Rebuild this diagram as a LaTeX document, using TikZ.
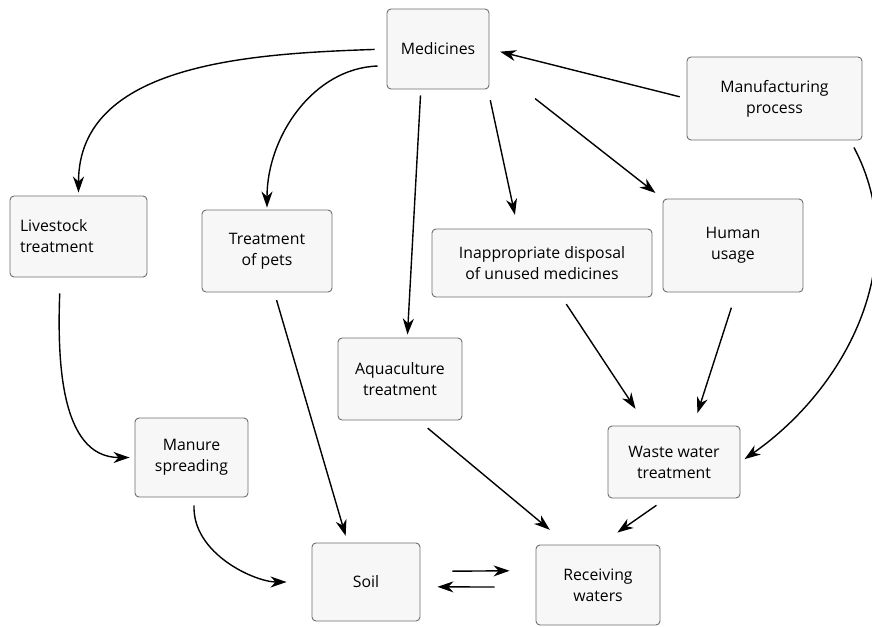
\documentclass[tikz,border=0pt]{standalone}
\usepackage{fontspec}
\setmainfont{Open Sans}
\usetikzlibrary{arrows.meta}
\definecolor{boxFill}{HTML}{F7F7F7}
\definecolor{boxLine}{HTML}{6E6E6E}

\begin{document}
\begin{tikzpicture}[x=1pt, y=-1pt,
        box/.style={draw=boxLine, fill=boxFill, rounded corners=4pt, line width=0.9pt,
            align=center, inner sep=0pt, font=\fontsize{15.8}{21}\selectfont},
        flow/.style={line width=1.4pt, -{Stealth[length=16pt, width=11pt, inset=5pt]}}]
            \useasboundingbox (0,0) rectangle (872,626);

            \node[box, minimum width=102, minimum height=80] (med) at (438,49) {Medicines};
            \node[box, minimum width=175, minimum height=83] (manu) at (774.5,98.5) {Manufacturing\\process};
            \node[box, minimum width=137, minimum height=81, text width=117, align=left] (live) at (78.5,236.5) {Livestock\\treatment};
            \node[box, minimum width=130, minimum height=82] (pets) at (267,251) {Treatment\\of pets};
            \node[box, minimum width=220, minimum height=68] (disp) at (542,263) {Inappropriate disposal\\of unused medicines};
            \node[box, minimum width=140, minimum height=93] (human) at (733,245.5) {Human\\usage};
            \node[box, minimum width=124, minimum height=82] (aqua) at (400,379) {Aquaculture\\treatment};
            \node[box, minimum width=132, minimum height=72] (waste) at (674,462) {Waste water\\treatment};
            \node[box, minimum width=113, minimum height=79] (manure) at (191.5,457.5) {Manure\\spreading};
            \node[box, minimum width=108, minimum height=78] (soil) at (366,582) {Soil};
            \node[box, minimum width=124, minimum height=80] (recv) at (598,585) {Receiving\\waters};

            \path[flow]
                (med.west) edge[out=182, in=90, shorten <=12pt, shorten >=3pt] (live.north)
                (med.198) edge[out=182, in=90, shorten <=9pt, shorten >=2pt] (pets.north)
                (med.-113) edge[shorten <=6pt, shorten >=3pt] (aqua.80)
                (med.-39) edge[shorten <=11pt, shorten >=14pt] (disp.125)
                (med.-15) edge[shorten <=58pt, shorten >=9pt] (human.north west)
                (manu.west) edge[shorten <=7pt, shorten >=11pt] (med.east)

                (manu.-29.5) edge[out=-62, in=35, shorten <=8pt, shorten >=5pt] (waste.east)
                (live.-114.5) edge[out=-92, in=180, shorten <=16pt, shorten >=5pt] (manure.west)
                (pets.-80) edge[shorten <=8pt, shorten >=7pt] (soil.115)
                (manure.-86) edge[out=-92, in=180, shorten <=8pt, shorten >=25pt] (soil.west)

                (disp.-60) edge[shorten <=8pt, shorten >=20pt] (waste.127)
                (human.-86) edge[shorten <=16pt, shorten >=13pt] (waste.62)
                (aqua.-66) edge[shorten <=12pt, shorten >=23pt] (recv.127)
                (waste.-102.5) edge[shorten <=12pt, shorten >=21pt] (recv.87)

                (soil.11.5) edge[shorten <=32pt, shorten >=26pt] (recv.167)
                (recv.182) edge[shorten <=41pt, shorten >=17pt] (soil.-5)
            ;
        \end{tikzpicture}
\end{document}
